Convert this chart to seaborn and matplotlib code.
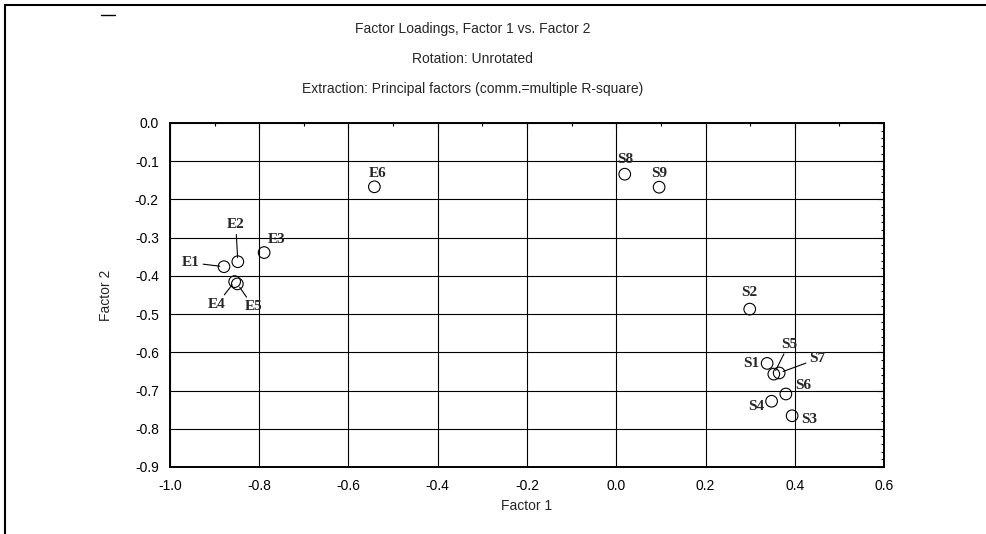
import matplotlib
matplotlib.use('Agg')
import matplotlib.pyplot as plt
import matplotlib.ticker as mticker
from matplotlib.lines import Line2D
import seaborn as sns
import pandas as pd

# factor loadings
labels = ['E1', 'E2', 'E3', 'E4', 'E5', 'E6',
          'S1', 'S2', 'S3', 'S4', 'S5', 'S6', 'S7', 'S8', 'S9']
factor1 = [-0.879, -0.848, -0.789, -0.855, -0.849, -0.542,
           0.338, 0.299, 0.394, 0.348, 0.353, 0.380, 0.365, 0.019, 0.096]
factor2 = [-0.376, -0.363, -0.339, -0.415, -0.421, -0.167,
           -0.629, -0.487, -0.766, -0.728, -0.657, -0.709, -0.654, -0.134, -0.168]

# label offsets (pixels) and whether a leader line is drawn
offsets = {
    'E1': (-33, 4, True), 'E2': (-2, 37, True), 'E3': (12, 13, False),
    'E4': (-18, -23, True), 'E5': (16, -23, True), 'E6': (3, 13, False),
    'S1': (-16, 0, False), 'S2': (0, 17, False), 'S3': (17, -4, False),
    'S4': (-15, -5, False), 'S5': (15, 30, True), 'S6': (17, 8, False),
    'S7': (38, 14, True), 'S8': (0, 15, False), 'S9': (0, 14, False),
}

df = pd.DataFrame({'label': labels, 'Factor 1': factor1, 'Factor 2': factor2})

sns.set_style('white')
plt.rcParams['font.family'] = ['Liberation Sans Narrow', 'Liberation Sans', 'DejaVu Sans']

fig = plt.figure(figsize=(9.87, 5.34), dpi=100)
ax = fig.add_axes([0.1722, 0.1255, 0.7235, 0.6442])

sns.scatterplot(data=df, x='Factor 1', y='Factor 2', ax=ax, s=70,
                marker='o', facecolor='none', edgecolor='black', linewidth=0.8,
                zorder=3)

for lab, x, y in zip(labels, factor1, factor2):
    dx, dy, line = offsets[lab]
    props = dict(arrowstyle='-', color='black', lw=0.8, shrinkA=0, shrinkB=3) if line else None
    ax.annotate(lab, (x, y), xytext=(dx, dy), textcoords='offset pixels',
                ha='center', va='center', fontsize=11, fontweight='bold',
                family=['Liberation Serif', 'DejaVu Serif'], arrowprops=props, zorder=4)

ax.set_xlim(-1.0, 0.6)
ax.set_ylim(-0.9, 0.0)
ax.xaxis.set_major_locator(mticker.MultipleLocator(0.2))
ax.xaxis.set_minor_locator(mticker.MultipleLocator(0.1))
ax.yaxis.set_major_locator(mticker.MultipleLocator(0.1))
ax.yaxis.set_minor_locator(mticker.MultipleLocator(0.02))
ax.xaxis.set_major_formatter(mticker.FormatStrFormatter('%.1f'))
ax.yaxis.set_major_formatter(mticker.FormatStrFormatter('%.1f'))
ax.grid(True, which='major', color='black', linewidth=0.8)
ax.tick_params(which='both', direction='in', top=True, right=True, labelsize=10, colors='black')
ax.tick_params(which='major', length=4, width=0.8)
ax.tick_params(which='minor', length=2.5, width=0.8)
ax.tick_params(axis='x', pad=9)
ax.tick_params(axis='y', pad=8)
for sp in ax.spines.values():
    sp.set_visible(True)
    sp.set_color('black')
    sp.set_linewidth(1.4)

ax.set_xlabel('Factor 1', fontsize=10, labelpad=4)
ax.set_ylabel('Factor 2', fontsize=10, labelpad=16)

fig.text(0.479, 0.945, 'Factor Loadings, Factor 1 vs. Factor 2', ha='center', va='center', fontsize=10)
fig.text(0.479, 0.889, 'Rotation: Unrotated', ha='center', va='center', fontsize=10)
fig.text(0.479, 0.833, 'Extraction: Principal factors (comm.=multiple R-square)', ha='center', va='center', fontsize=10)

# outer frame of the original page (left and top edges)
fig.add_artist(Line2D([0.005, 0.005], [0.0, 0.99], transform=fig.transFigure, color='black', lw=1.5))
fig.add_artist(Line2D([0.005, 1.0], [0.99, 0.99], transform=fig.transFigure, color='black', lw=1.5))
fig.add_artist(Line2D([0.102, 0.117], [0.972, 0.972], transform=fig.transFigure, color='black', lw=1))

fig.savefig('out.png', dpi=100)
